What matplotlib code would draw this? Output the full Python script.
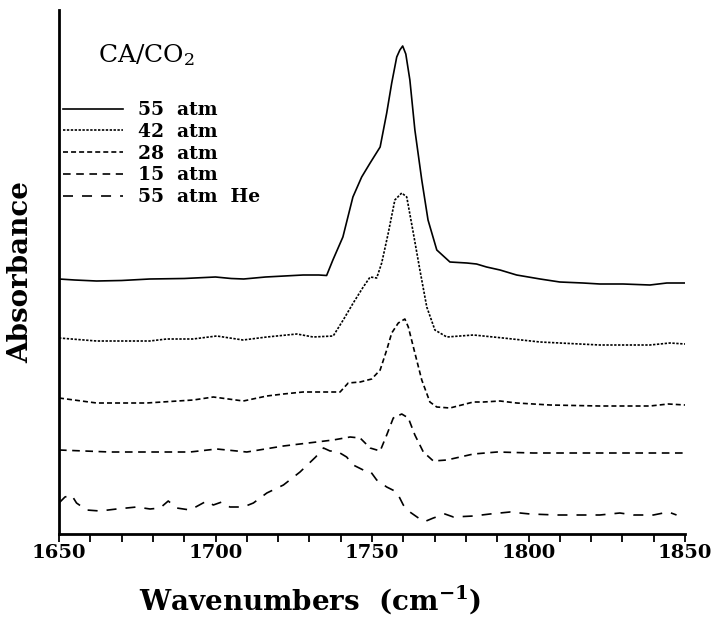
import numpy as np
import matplotlib
matplotlib.use("Agg")
import matplotlib.pyplot as plt
from matplotlib.ticker import MultipleLocator

plt.rcParams['font.family'] = ['DejaVu Serif', 'DejaVu Sans']
plt.rcParams['mathtext.fontset'] = 'dejavuserif'
plt.rcParams['lines.scale_dashes'] = False

# stacked IR spectra, absorbance in arbitrary units (offset already included)
wn_55 = [1650, 1655, 1662, 1670, 1679, 1690, 1700, 1705, 1709, 1716, 1722, 1728, 1733, 1735.5,
         1737.5, 1740.7, 1743.9, 1746.7, 1749.4, 1752.6, 1754.7, 1756.3, 1757.9, 1758.9, 1759.8,
         1760.8, 1762.1, 1763.7, 1765.9, 1767.9, 1770.7, 1774.9, 1780.3, 1783.4, 1786.6, 1790.9,
         1796.2, 1803.7, 1810, 1817.4, 1822.8, 1830.2, 1838.8, 1844.2, 1850]
ab_55 = [2.55, 2.54, 2.53, 2.535, 2.55, 2.555, 2.57, 2.555, 2.55, 2.57, 2.58, 2.59, 2.59, 2.585,
         2.74, 2.97, 3.37, 3.57, 3.71, 3.87, 4.21, 4.51, 4.77, 4.84, 4.88,
         4.80, 4.54, 4.04, 3.54, 3.14, 2.84, 2.72, 2.71, 2.70, 2.67, 2.64,
         2.59, 2.55, 2.52, 2.51, 2.50, 2.50, 2.49, 2.51, 2.51]

wn_42 = [1650, 1662, 1679, 1684.4, 1692.8, 1700.4, 1708.8, 1716.4, 1726, 1731.2, 1737.6, 1740.8,
         1744, 1747.2, 1749.4, 1751.5, 1753.1, 1755.2, 1757.3, 1759.5, 1761.1, 1763.2, 1765.3,
         1767.5, 1770.1, 1773.9, 1782.4, 1785.6, 1791.9, 1803.7, 1810, 1822.8, 1838.8, 1845.2, 1850]
ab_42 = [1.96, 1.93, 1.93, 1.95, 1.95, 1.98, 1.94, 1.97, 2.00, 1.97, 1.98, 2.14,
         2.31, 2.47, 2.57, 2.56, 2.71, 3.01, 3.34, 3.41, 3.37, 3.01, 2.64,
         2.27, 2.04, 1.97, 1.99, 1.98, 1.96, 1.92, 1.91, 1.89, 1.89, 1.91, 1.90]

wn_28 = [1650, 1662, 1666.3, 1678, 1692.9, 1697.2, 1699.3, 1708.9, 1716.4, 1721.7, 1728, 1739.8,
         1742.4, 1746.2, 1749.9, 1752.6, 1754.7, 1756.3, 1758.4, 1760.5, 1761.6, 1763.7, 1765.9,
         1768.5, 1770.7, 1774.9, 1782.4, 1785.6, 1790.9, 1796.2, 1806.9, 1822.8, 1838.8, 1844.7, 1850]
ab_28 = [1.36, 1.31, 1.31, 1.31, 1.34, 1.36, 1.37, 1.33, 1.38, 1.40, 1.42, 1.42,
         1.51, 1.52, 1.55, 1.64, 1.84, 2.01, 2.11, 2.15, 2.07, 1.81, 1.54,
         1.32, 1.27, 1.26, 1.32, 1.32, 1.33, 1.31, 1.29, 1.28, 1.28, 1.30, 1.29]

wn_15 = [1650, 1666.3, 1681.2, 1691.9, 1700.4, 1710, 1721.7, 1732.3, 1737.6, 1743, 1746.2, 1749.4,
         1752.6, 1754.7, 1756.8, 1759.5, 1761.6, 1763.7, 1766.4, 1769.6, 1773.9, 1782.4, 1790,
         1801.5, 1817.5, 1833.5, 1850]
ab_15 = [0.84, 0.82, 0.82, 0.82, 0.85, 0.82, 0.88, 0.92, 0.94, 0.97, 0.96, 0.86,
         0.83, 0.99, 1.16, 1.20, 1.16, 0.99, 0.82, 0.73, 0.74, 0.80, 0.82,
         0.81, 0.81, 0.81, 0.81]

wn_he = [1650, 1651.9, 1654, 1655.6, 1658.8, 1663.1, 1668.4, 1674.8, 1679.1, 1682.3, 1684.9, 1687.6,
         1691.9, 1697.2, 1699.3, 1702, 1704.6, 1708.9, 1712.1, 1716.4, 1721.7, 1727, 1732, 1734.5,
         1736.6, 1738.7, 1741.9, 1744, 1747.2, 1749.4, 1751.5, 1754.7, 1757.9, 1760, 1762.1, 1765.3,
         1766.9, 1769.6, 1773.3, 1776, 1782.4, 1787.7, 1794.1, 1800.5, 1809, 1816.5, 1822.8, 1829.2,
         1833.5, 1839.9, 1844.7, 1847.3]
ab_he = [0.31, 0.37, 0.39, 0.31, 0.24, 0.23, 0.25, 0.27, 0.25, 0.26, 0.33, 0.26,
         0.24, 0.33, 0.29, 0.32, 0.27, 0.27, 0.31, 0.41, 0.49, 0.62, 0.77, 0.86,
         0.83, 0.83, 0.77, 0.69, 0.64, 0.63, 0.54, 0.47, 0.42, 0.29, 0.22, 0.15,
         0.125, 0.16, 0.20, 0.17, 0.18, 0.20, 0.22, 0.20, 0.19, 0.19, 0.19, 0.21,
         0.19, 0.19, 0.22, 0.19]

labels = ['55  atm', '42  atm', '28  atm', '15  atm', '55  atm  He']
dashes = ['-', (0, (1.7, 1.1)), (0, (3.6, 2.2)), (0, (5.5, 4.0)), (0, (7.2, 6.5))]

fig = plt.figure(figsize=(7.13, 6.25), dpi=100)
ax = fig.add_axes([59 / 713, 91 / 625, 626 / 713, 524 / 625])

series = [(wn_55, ab_55), (wn_42, ab_42), (wn_28, ab_28), (wn_15, ab_15), (wn_he, ab_he)]
for (wn, ab), lab, ls in zip(series, labels, dashes):
    ax.plot(wn, ab, color='black', lw=1.2, linestyle=ls, label=lab)

ax.set_xlim(1650, 1850)
ax.set_ylim(0, 5.24)
ax.xaxis.set_major_locator(MultipleLocator(50))
ax.xaxis.set_minor_locator(MultipleLocator(10))
ax.set_yticks([])
for side in ['top', 'right']:
    ax.spines[side].set_visible(False)
for side in ['left', 'bottom']:
    ax.spines[side].set_linewidth(2)
ax.tick_params(axis='x', which='both', direction='out', length=5.5, width=1.3, pad=2)
for t in ax.get_xticklabels():
    t.set_fontsize(14)
    t.set_fontweight('bold')

fig.text(21 / 713, 1 - 272 / 625, 'Absorbance', fontsize=20, fontweight='bold',
         rotation=90, ha='center', va='center')
fig.text(310 / 713, 1 - 600 / 625, r'Wavenumbers  (cm$^{\mathbf{-1}}$)', fontsize=20,
         fontweight='bold', ha='center', va='center')

ax.text((98 - 59) / 626, (534 - 55) / 524, r'CA/CO$_2$', transform=ax.transAxes,
        fontsize=18, ha='left', va='center')

leg = ax.legend(loc='upper left', bbox_to_anchor=(0.006, 0.826), frameon=False,
                prop={'family': 'DejaVu Serif', 'weight': 'bold', 'size': 13.5},
                handlelength=3.2, handletextpad=0.8, labelspacing=0.2,
                borderpad=0, borderaxespad=0)

fig.savefig('out.png', dpi=100)
